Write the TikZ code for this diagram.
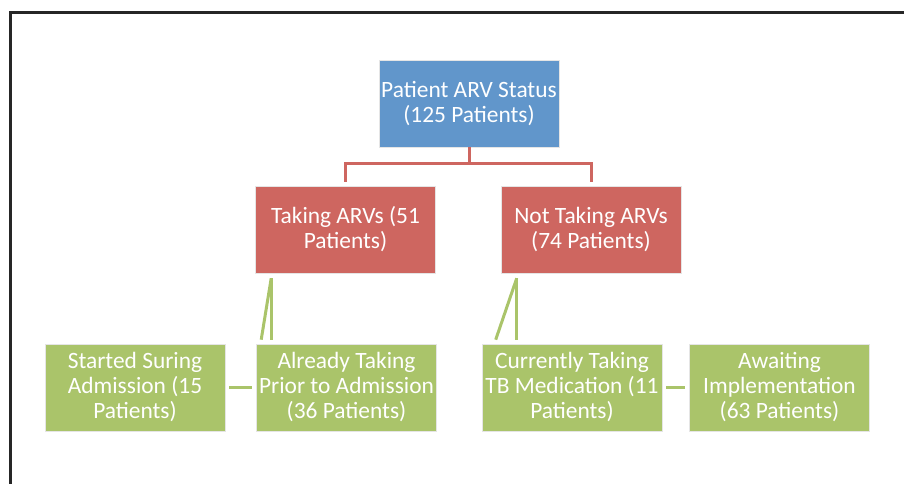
\documentclass[tikz,border=0pt]{standalone}
\usepackage{fontspec}
\setmainfont{Carlito}
\definecolor{statusblue}{RGB}{97,150,203}
\definecolor{armred}{RGB}{206,102,96}
\definecolor{subgreen}{RGB}{170,196,106}
\begin{document}
\begin{tikzpicture}[x=1pt,y=1pt,
        box/.style={minimum width=180pt,minimum height=87pt,inner sep=0pt,
            align=center,text=white,draw=white!80!gray,line width=0.6pt,
            font=\fontsize{23.4}{25}\selectfont},
        redline/.style={draw=armred,line width=3pt},
        greenline/.style={draw=subgreen,line width=3pt}]
                        \useasboundingbox (0,0) rectangle (904,484);
                        \draw[line width=3pt,black!85] (10,0) -- (10,471) -- (904,471);
                        \node[box,fill=statusblue] (status) at (469,380.5) {Patient ARV Status\\(125 Patients)};
                        \node[box,fill=armred] (taking) at (345.5,254.5) {Taking ARVs (51\\Patients)};
                        \node[box,fill=armred] (nottaking) at (591,254.5) {Not Taking ARVs\\(74 Patients)};
                        \node[box,fill=subgreen] (started) at (135,96.5) {Started Suring\\Admission (15\\Patients)};
                        \node[box,fill=subgreen] (already) at (346.5,96.5) {Already Taking\\Prior to Admission\\(36 Patients)};
                        \node[box,fill=subgreen] (current) at (572,96.5) {Currently Taking\\TB Medication (11\\Patients)};
                        \node[box,fill=subgreen] (awaiting) at (779.5,96.5) {Awaiting\\Implementation\\(63 Patients)};
                        \draw[redline] (status.south) -- ++(0,-16) -| ([yshift=4pt]taking.north);
                        \draw[redline] (status.south) -- ++(0,-16) -| ([yshift=4pt]nottaking.north);
                        \draw[greenline] ([shift={(16,-5)}]taking.south west) -- ([shift={(15,4)}]already.north west);
                        \draw[greenline] ([shift={(16,-5)}]taking.south west) -- ([shift={(5,4)}]already.north west);
                        \draw[greenline] ([shift={(16,-5)}]nottaking.south west) -- ([shift={(35,4)}]current.north west);
                        \draw[greenline] ([shift={(16,-5)}]nottaking.south west) -- ([shift={(14,4)}]current.north west);
                        \draw[greenline,shorten <=4pt,shorten >=4pt] (started.east) -- (already.west);
                        \draw[greenline,shorten <=4pt,shorten >=4pt] (current.east) -- (awaiting.west);
                    \end{tikzpicture}
\end{document}
